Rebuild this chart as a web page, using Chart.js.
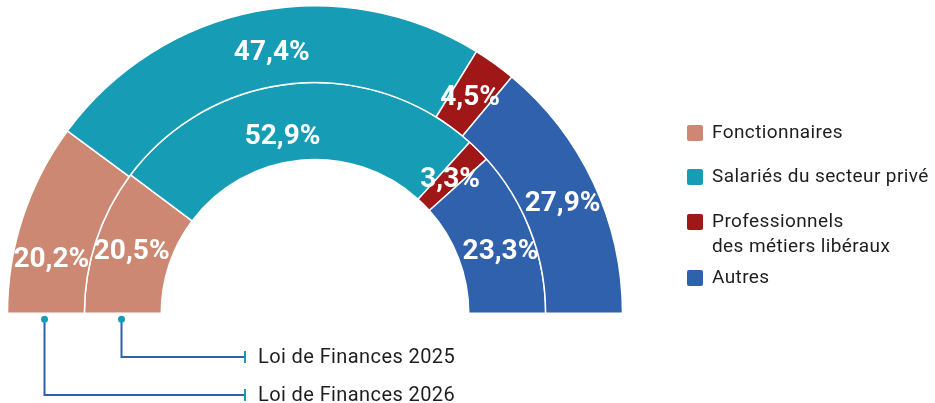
<!DOCTYPE html>
<html lang="fr">
<head>
<meta charset="utf-8">
<script src="https://cdn.jsdelivr.net/npm/chart.js@4.4.1/dist/chart.umd.min.js"></script>
<style>
  html, body { margin: 0; padding: 0; background: #fff; }
  #wrap { position: relative; width: 935px; height: 403px; }
  #legend { position: absolute; left: 687px; top: 0; font-family: Roboto, sans-serif; font-size: 19px; letter-spacing: 0.4px; color: #1e1e1e; }
  .item { position: absolute; left: 0; white-space: nowrap; line-height: 25px; }
  .box { position: absolute; left: 0; top: 4px; width: 16px; height: 16px; border-radius: 2px; }
  .txt { position: absolute; left: 25px; top: -2px; }
</style>
</head>
<body>
<div id="wrap">
  <canvas id="chart" width="935" height="403"></canvas>
  <div id="legend"></div>
</div>
<script>
// categories and values (outer ring = 2026, inner ring = 2025)
const categories = ['Fonctionnaires', 'Salariés du secteur privé', 'Professionnels\ndes métiers libéraux', 'Autres'];
const values2026 = [20.2, 47.4, 4.5, 27.9];
const values2025 = [20.5, 52.9, 3.3, 23.3];
const seriesNames = ['Loi de Finances 2026', 'Loi de Finances 2025'];
const colors = ['#CD8873', '#169DB5', '#A01717', '#2F61AC'];

// small nudges for the value labels, per ring / slice
const labelNudge = [
    [[-8, 31], [8, 4], [-2, 3], [4, 5]],
    [[-1, 0], [-14, 15], [-1, 2], [6, 8]]
];

function fmt(v) {
    return v.toFixed(1).replace('.', ',') + '%';
}

const valueLabels = {
    id: 'valueLabels',
    afterDatasetsDraw(chart) {
        const ctx = chart.ctx;
        ctx.save();
        ctx.font = 'bold 28px Roboto, sans-serif';
        ctx.fillStyle = '#fff';
        ctx.textAlign = 'center';
        ctx.textBaseline = 'middle';
        chart.data.datasets.forEach((ds, di) => {
            chart.getDatasetMeta(di).data.forEach((arc, i) => {
                const p = arc.tooltipPosition();
                const n = labelNudge[di][i];
                ctx.fillText(fmt(ds.data[i]), p.x + n[0], p.y + n[1]);
            });
        });
        ctx.restore();
    }
};

// connectors from each ring to its series name
const connectors = {
    id: 'connectors',
    afterDraw(chart) {
        const ctx = chart.ctx;
        const lineY = [395, 357];
        const endX = 245;
        ctx.save();
        chart.data.datasets.forEach((ds, di) => {
            const arc = chart.getDatasetMeta(di).data[0];
            const x = Math.round(arc.x - (arc.outerRadius + arc.innerRadius) / 2) - 1.5;
            const y0 = arc.y + 6;
            ctx.strokeStyle = '#2F61AC';
            ctx.lineWidth = 2;
            ctx.beginPath();
            ctx.moveTo(x, y0);
            ctx.lineTo(x, lineY[di]);
            ctx.lineTo(endX, lineY[di]);
            ctx.stroke();
            ctx.fillStyle = '#169DB5';
            ctx.beginPath();
            ctx.arc(x, y0, 3.5, 0, Math.PI * 2);
            ctx.fill();
            ctx.strokeStyle = '#169DB5';
            ctx.beginPath();
            ctx.moveTo(endX, lineY[di] - 6);
            ctx.lineTo(endX, lineY[di] + 6);
            ctx.stroke();
            ctx.font = '20px Roboto, sans-serif';
            ctx.letterSpacing = '0.4px';
            ctx.fillStyle = '#1e1e1e';
            ctx.textAlign = 'left';
            ctx.textBaseline = 'middle';
            ctx.fillText(seriesNames[di], 258, lineY[di] + 1);
        });
        ctx.restore();
    }
};

new Chart(document.getElementById('chart'), {
    type: 'doughnut',
    data: {
        labels: categories,
        datasets: [
            { label: seriesNames[0], data: values2026, backgroundColor: colors, borderColor: '#fff', borderWidth: 1.5 },
            { label: seriesNames[1], data: values2025, backgroundColor: colors, borderColor: '#fff', borderWidth: 1.5 }
        ]
    },
    options: {
        responsive: false,
        animation: false,
        rotation: -90,
        circumference: 180,
        cutout: '50%',
        layout: { padding: { left: 6, right: 311, top: 5, bottom: 89 } },
        plugins: {
            legend: { display: false },
            tooltip: { enabled: false }
        },
        events: []
    },
    plugins: [valueLabels, connectors]
});

// legend
const legendTop = [121, 165, 210, 266];
const legend = document.getElementById('legend');
categories.forEach((c, i) => {
    const item = document.createElement('div');
    item.className = 'item';
    item.style.top = legendTop[i] + 'px';
    item.innerHTML = '<span class="box" style="background:' + colors[i] + '"></span><span class="txt">' + c.replace('\n', '<br>') + '</span>';
    legend.appendChild(item);
});
</script>
</body>
</html>
